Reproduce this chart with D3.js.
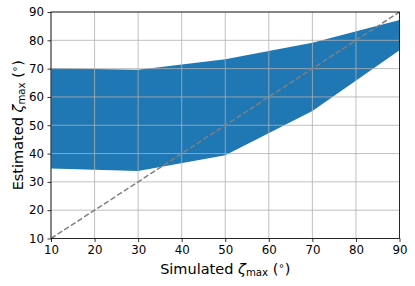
<!DOCTYPE html>
<html><head><meta charset="utf-8">
<script src="https://cdn.jsdelivr.net/npm/d3@7/dist/d3.min.js"></script>
<style>body{margin:0;background:#fff}svg{display:block}text{font-family:"DejaVu Sans",sans-serif}</style>
</head><body><svg id="c" width="415" height="286"></svg>
<script>
const simulated = [10, 30, 50, 70, 90];
const upperEst = [70.1, 69.6, 73.3, 79.1, 87.2];
const lowerEst = [34.7, 33.8, 39.4, 55.0, 76.5];
const xTicks = [10, 20, 30, 40, 50, 60, 70, 80, 90];
const yTicks = [10, 20, 30, 40, 50, 60, 70, 80, 90];
const diagonal = [10, 90];

const svg = d3.select("#c");
const m = {l: 51, r: 399.5, t: 12, b: 238.5};
const x = d3.scaleLinear().domain([10, 90]).range([m.l, m.r]);
const y = d3.scaleLinear().domain([10, 90]).range([m.b, m.t]);

const data = simulated.map((s, i) => ({s, lo: lowerEst[i], hi: upperEst[i]}));
svg.append("path").datum(data)
  .attr("d", d3.area().x(d => x(d.s)).y0(d => y(d.lo)).y1(d => y(d.hi)))
  .attr("fill", "#1f77b4");

// grid
const g = svg.append("g").attr("stroke", "#b0b0b0").attr("stroke-width", 0.8);
xTicks.forEach(t => g.append("line").attr("x1", x(t)).attr("x2", x(t)).attr("y1", m.t).attr("y2", m.b));
yTicks.forEach(t => g.append("line").attr("y1", y(t)).attr("y2", y(t)).attr("x1", m.l).attr("x2", m.r));

// diagonal
svg.append("line").attr("x1", x(diagonal[0])).attr("y1", y(diagonal[0]))
  .attr("x2", x(diagonal[1])).attr("y2", y(diagonal[1]))
  .attr("stroke", "#808080").attr("stroke-width", 1.5).attr("stroke-dasharray", "5.5,2.4");

// axes
const xa = svg.append("g").attr("transform", `translate(0,${m.b})`)
  .call(d3.axisBottom(x).tickValues(xTicks).tickSize(3.5).tickPadding(3.5).tickSizeOuter(0));
const ya = svg.append("g").attr("transform", `translate(${m.l},0)`)
  .call(d3.axisLeft(y).tickValues(yTicks).tickSize(3.5).tickPadding(3.5).tickSizeOuter(0));
[xa, ya].forEach(a => {
  a.select(".domain").remove();
  a.selectAll("text").attr("font-size", 11.8).attr("fill", "#000").attr("font-family", "DejaVu Sans");
  a.selectAll("line").attr("stroke", "#000").attr("stroke-width", 0.8);
});
svg.append("rect").attr("x", m.l).attr("y", m.t).attr("width", m.r - m.l).attr("height", m.b - m.t)
  .attr("fill", "none").attr("stroke", "#000").attr("stroke-width", 0.8);

// labels
function label(sel, pre) {
  sel.append("tspan").text(pre + " ");
  sel.append("tspan").attr("font-style", "italic").text("ζ");
  sel.append("tspan").attr("font-size", 10.2).attr("dy", 2.5).text("max");
  sel.append("tspan").attr("dy", -2.5).text(" (");
  sel.append("tspan").attr("font-size", 10).attr("dy", -5).text("∘");
  sel.append("tspan").attr("dy", 5).text(")");
}
const xl = svg.append("text").attr("x", (m.l + m.r) / 2).attr("y", 273.5).attr("text-anchor", "middle")
  .attr("font-size", 14.5).attr("fill", "#000");
label(xl, "Simulated");
const yl = svg.append("text").attr("transform", `translate(22.5,${(m.t + m.b) / 2}) rotate(-90)`)
  .attr("text-anchor", "middle").attr("font-size", 14.5).attr("fill", "#000");
label(yl, "Estimated");
</script></body></html>
